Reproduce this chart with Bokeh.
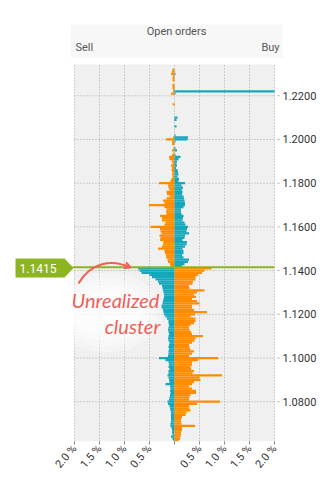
from bokeh.plotting import figure
from bokeh.models import (ColumnDataSource, FixedTicker, Arrow, OpenHead,
                          NumeralTickFormatter, CustomJSTickFormatter)
from bokeh.core.properties import value
from bokeh.embed import file_html
from bokeh.resources import INLINE

# ---------------- data ----------------
top_price = 1.232          # highest price bucket
bucket = 0.001             # bucket size
current_price = 1.1415

# % of open orders shown on the sell side (left), top bucket first
sell_pct = [
    0.04, 0.05, 0.07, 0.03, 0.04, 0.04, 0.00, 0.04, 0.04, 0.03,
    0.03, 0.07, 0.00, 0.00, 0.00, 0.00, 0.04, 0.00, 0.00, 0.00,
    0.00, 0.00, 0.00, 0.01, 0.00, 0.00, 0.00, 0.00, 0.00, 0.00,
    0.00, 0.03, 0.17, 0.05, 0.05, 0.00, 0.02, 0.05, 0.02, 0.05,
    0.11, 0.10, 0.05, 0.04, 0.07, 0.05, 0.06, 0.04, 0.05, 0.04,
    0.06, 0.08, 0.31, 0.13, 0.12, 0.10, 0.16, 0.15, 0.10, 0.16,
    0.23, 0.20, 0.51, 0.20, 0.16, 0.17, 0.16, 0.29, 0.25, 0.25,
    0.18, 0.20, 0.48, 0.29, 0.28, 0.26, 0.30, 0.28, 0.29, 0.22,
    0.23, 0.25, 0.33, 0.20, 0.19, 0.17, 0.17, 0.14, 0.13, 0.09,
    0.08, 0.73, 0.70, 0.66, 0.50, 0.45, 0.38, 0.33, 0.31, 0.25,
    0.24, 0.23, 0.22, 0.21, 0.21, 0.22, 0.23, 0.24, 0.26, 0.26,
    0.23, 0.22, 0.21, 0.18, 0.15, 0.12, 0.12, 0.11, 0.12, 0.13,
    0.12, 0.11, 0.12, 0.13, 0.12, 0.10, 0.11, 0.12, 0.11, 0.12,
    0.12, 0.13, 0.31, 0.18, 0.12, 0.11, 0.12, 0.10, 0.12, 0.12,
    0.14, 0.12, 0.11, 0.10, 0.18, 0.09, 0.08, 0.09, 0.08, 0.09,
    0.10, 0.11, 0.14, 0.13, 0.10, 0.09, 0.08, 0.07, 0.07, 0.07,
    0.07, 0.07, 0.08, 0.08, 0.06, 0.05, 0.05, 0.04, 0.07, 0.04,
    0.02,
]

# % of open orders shown on the buy side (right), top bucket first
buy_pct = [
    0.00, 0.00, 0.02, 0.00, 0.00, 0.00, 0.00, 0.00, 0.00, 0.00,
    2.00, 0.02, 0.00, 0.00, 0.00, 0.00, 0.00, 0.00, 0.00, 0.00,
    0.00, 0.00, 0.06, 0.04, 0.00, 0.00, 0.04, 0.00, 0.00, 0.00,
    0.02, 0.27, 0.26, 0.02, 0.00, 0.00, 0.02, 0.05, 0.00, 0.02,
    0.12, 0.08, 0.05, 0.04, 0.05, 0.03, 0.06, 0.07, 0.08, 0.06,
    0.09, 0.08, 0.21, 0.14, 0.17, 0.15, 0.16, 0.15, 0.18, 0.19,
    0.20, 0.21, 0.21, 0.18, 0.13, 0.13, 0.14, 0.18, 0.17, 0.16,
    0.20, 0.22, 0.27, 0.25, 0.24, 0.29, 0.21, 0.20, 0.16, 0.25,
    0.24, 0.21, 0.16, 0.18, 0.18, 0.15, 0.18, 0.29, 0.27, 0.20,
    0.15, 0.74, 0.60, 0.55, 0.47, 0.42, 0.42, 0.37, 0.36, 0.29,
    0.30, 0.60, 0.45, 0.39, 0.43, 0.35, 0.45, 0.50, 0.35, 0.35,
    0.39, 0.65, 0.41, 0.32, 0.42, 0.42, 0.39, 0.32, 0.29, 0.30,
    0.33, 0.35, 0.57, 0.42, 0.40, 0.35, 0.29, 0.30, 0.32, 0.39,
    0.35, 0.29, 0.87, 0.47, 0.35, 0.35, 0.32, 0.33, 0.39, 0.36,
    0.95, 0.50, 0.52, 0.39, 0.35, 0.29, 0.35, 0.43, 0.43, 0.32,
    0.30, 0.29, 0.91, 0.45, 0.29, 0.30, 0.32, 0.24, 0.22, 0.15,
    0.13, 0.13, 0.14, 0.41, 0.15, 0.15, 0.13, 0.13, 0.12, 0.11,
    0.08,
]

x_ticks = [-2.0, -1.5, -1.0, -0.5, 0.0, 0.5, 1.0, 1.5, 2.0]
y_ticks = [1.08, 1.10, 1.12, 1.14, 1.16, 1.18, 1.20, 1.22]
x_lo, x_hi = -2.0, 2.0          # % scale shown
y_lo, y_hi = 1.0618, 1.2343     # price window of the order book

ORANGE = "#ff8c00"
CYAN = "#14a8bd"
GREEN = "#8cb521"
NOTE = "#ef5f59"
FONT = value("Roboto")

prices = [round(top_price - bucket * i, 4) for i in range(len(sell_pct))]
left_col = [ORANGE if pr > current_price else CYAN for pr in prices]
right_col = [CYAN if pr > current_price else ORANGE for pr in prices]

left_src = ColumnDataSource(dict(y=prices, left=[-v for v in sell_pct],
                                 right=[0.0] * len(prices), color=left_col))
right_src = ColumnDataSource(dict(y=prices, left=[0.0] * len(prices),
                                  right=buy_pct, color=right_col))

# ---------------- layout geometry (pixels) ----------------
W, H = 330, 482
PX_L, PX_R = 74, 274     # pixel position of -2 % and +2 %
PY_T, PY_B = 64, 441     # pixel position of y_hi and y_lo
FRAME_R = 282            # frame extends right to here, axis labels follow
ppx = (PX_R - PX_L) / (x_hi - x_lo)
ppy = (PY_B - PY_T) / (y_hi - y_lo)


def sx(px):
    return x_lo + (px - PX_L) / ppx


def sy(py):
    return y_hi - (py - PY_T) / ppy


p = figure(width=W, height=H, x_range=(sx(0), sx(FRAME_R)), y_range=(y_lo, sy(0)),
           y_axis_location="right", output_backend="svg", toolbar_location=None,
           min_border_left=0, min_border_right=W - FRAME_R, min_border_top=0,
           min_border_bottom=H - PY_B, background_fill_color="white",
           border_fill_color="white", outline_line_color=None)
p.xgrid.visible = False
p.ygrid.visible = False

# plot panel
p.quad(left=[x_lo], right=[x_hi], bottom=[y_lo], top=[y_hi], fill_color="#f0f0f0",
       line_color=None)
# grid lines
p.segment(x0=x_ticks, x1=x_ticks, y0=[y_lo] * len(x_ticks), y1=[y_hi] * len(x_ticks),
          line_color="#a8a8a8", line_dash="1 2", line_width=1)
p.segment(x0=[x_lo] * len(y_ticks), x1=[x_hi] * len(y_ticks), y0=y_ticks, y1=y_ticks,
          line_color="#a8a8a8", line_dash="1 2", line_width=1)

# order bars
p.hbar(y="y", left="left", right="right", height=bucket * 1.03, fill_color="color",
       line_color=None, source=left_src)
p.hbar(y="y", left="left", right="right", height=bucket * 1.03, fill_color="color",
       line_color=None, source=right_src)

# axes
xa = p.xaxis[0]
xa.ticker = FixedTicker(ticks=x_ticks)
xa.formatter = CustomJSTickFormatter(
    code="return tick == 0 ? '' : Math.abs(tick).toFixed(1) + ' %';")
xa.major_label_orientation = 0.87
xa.axis_line_color = None
xa.major_tick_line_color = "#888888"
xa.major_tick_in = 0
xa.major_tick_out = 3
xa.minor_tick_line_color = None
xa.major_label_text_font = "Roboto"
xa.major_label_text_font_size = "11px"
xa.major_label_text_color = "#333333"
xa.major_label_standoff = 2

ya = p.yaxis[0]
ya.ticker = FixedTicker(ticks=y_ticks)
ya.formatter = NumeralTickFormatter(format="0.0000")
ya.axis_line_color = None
ya.major_tick_line_color = None
ya.major_tick_in = 0
ya.major_tick_out = 0
ya.minor_tick_line_color = None
ya.major_label_text_font = "Roboto"
ya.major_label_text_font_size = "11px"
ya.major_label_text_color = "#333333"
ya.major_label_standoff = 0

# small tick dots at the right of the panel
p.segment(x0=[sx(277)] * len(y_ticks), x1=[sx(279)] * len(y_ticks), y0=y_ticks,
          y1=y_ticks, line_color="#aaaaaa", line_width=1)

# header
p.quad(left=[sx(70)], right=[sx(282)], top=[sy(24)], bottom=[sy(57)],
       fill_color="#f7f7f7", line_color=None)
p.text(x=[sx(176)], y=[sy(31)], text=["Open orders"], text_align="center",
       text_baseline="middle", text_font=FONT, text_font_size="11px",
       text_color="#555555")
p.text(x=[sx(75)], y=[sy(47)], text=["Sell"], text_align="left",
       text_baseline="middle", text_font=FONT, text_font_size="11px",
       text_color="#555555")
p.text(x=[sx(279)], y=[sy(47)], text=["Buy"], text_align="right",
       text_baseline="middle", text_font=FONT, text_font_size="11px",
       text_color="#555555")

# current price line + tag
p.segment(x0=[sx(72)], x1=[x_hi], y0=[current_price], y1=[current_price],
          line_color=GREEN, line_width=2)
p.patch(x=[sx(15), sx(64), sx(73), sx(64), sx(15)],
        y=[sy(258), sy(258), sy(267.5), sy(277), sy(277)],
        fill_color=GREEN, line_color=None)
p.text(x=[sx(19)], y=[sy(267.5)], text=[f"{current_price:.4f}"], text_align="left",
       text_baseline="middle", text_font=FONT, text_font_size="12px",
       text_color="white")

# note with soft white halo
for w_, h_, a_ in ((112, 80, 0.25), (100, 68, 0.3), (88, 56, 0.35), (74, 44, 0.4)):
    p.ellipse(x=[sx(106)], y=[sy(312)], width=[w_ / ppx], height=[h_ / ppy],
              fill_color="white", fill_alpha=a_, line_color=None)
note_x = [sx(115), sx(132)]
note_y = [sy(299), sy(325)]
note_t = ["Unrealized", "cluster"]
p.text(x=note_x, y=note_y, text=note_t, text_align="center", text_baseline="middle",
       text_font=value("Lato"), text_font_style="italic", text_font_size="20px",
       text_color=NOTE)
p.bezier(x0=[sx(78)], y0=[sy(283)], x1=[sx(129)], y1=[sy(267)],
         cx0=[sx(90)], cy0=[sy(262)], cx1=[sx(112)], cy1=[sy(258)],
         line_color=NOTE, line_width=2)
p.add_layout(Arrow(end=OpenHead(size=6, line_color=NOTE, line_width=2),
                   x_start=sx(124), y_start=sy(264.5), x_end=sx(130), y_end=sy(267),
                   line_color=NOTE, line_width=2))

open("out.html", "w").write(file_html(p, INLINE))
